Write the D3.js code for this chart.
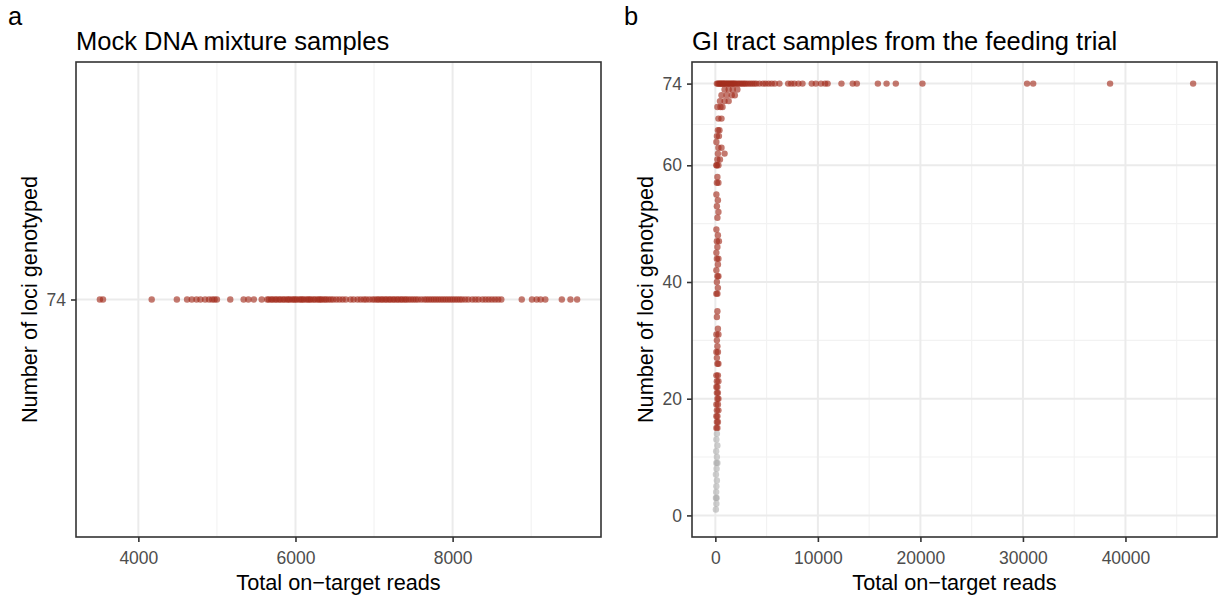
<!DOCTYPE html>
<html>
<head>
<meta charset="utf-8">
<script src="https://cdn.jsdelivr.net/npm/d3@7"></script>
<style>
  body { margin: 0; background: #fff; }
  svg text { font-family: "Liberation Sans", Arial, Helvetica, sans-serif; }
</style>
</head>
<body>
<div id="chart"></div>
<script>
// panel a: mock DNA mixtures, every sample genotyped at all 74 loci
const mockReads = [
  3510, 3550, 4170, 4490, 4620, 4680, 4740, 4790, 4850, 4900, 4940, 4970, 5000,
  5170, 5340, 5400, 5470, 5570,
  5640, 5660, 5690, 5710, 5740, 5760, 5790, 5810, 5840, 5860, 5890, 5910, 5930,
  5960, 5980, 6000, 6020, 6050, 6070, 6090, 6110, 6140, 6160, 6180, 6200, 6230,
  6250, 6280, 6300, 6320, 6340, 6370, 6390, 6420, 6450, 6480, 6520, 6560, 6600,
  6640, 6700, 6740, 6790, 6830, 6870, 6900, 6940, 6980, 7010, 7040, 7060, 7090,
  7110, 7140, 7160, 7190, 7210, 7240, 7260, 7290, 7310, 7340, 7360, 7390, 7410,
  7440, 7470, 7500, 7530, 7560, 7600, 7640, 7670, 7700, 7730, 7760, 7790, 7820,
  7850, 7880, 7910, 7940, 7970, 8000, 8030, 8060, 8090, 8120, 8160, 8200,
  8250, 8290, 8330, 8380, 8420, 8460, 8500, 8540, 8580, 8620,
  8880, 9010, 9070, 9120, 9180, 9390, 9500, 9585
];
const mockLoci = 74;

// panel b: GI tract samples, [total on-target reads, loci genotyped]
const giReads = [
  // loci 74
  150, 250, 350, 450, 520, 600, 700, 780, 850, 950, 1050, 1150, 1250, 1350, 1450,
  1550, 1650, 1750, 1850, 1950, 2100, 2250, 2400, 2550, 2700, 2850, 3000, 3200,
  3400, 3600, 3800, 4000, 4300, 4650, 4900, 5200, 5500, 5800, 6250, 7100, 7400,
  7700, 8100, 8500, 9400, 9800, 10300, 10700, 10950, 12300, 13400, 13800, 15850,
  16700, 17600, 20200, 30400, 31000, 38500, 46600,
  // loci 73 .. 60
  900, 1300, 1700, 2150, 600, 1100, 1600, 1900, 450, 900, 1300, 200, 500, 700,
  300, 600, 250, 400, 150, 350, 100, 300, 600, 250, 900, 200, 450, 150, 300, 100,
  // loci 58 .. 38
  200, 150, 300, 100, 250, 150, 300, 200, 100, 250, 150, 350, 200, 100, 300, 150,
  250, 100, 200, 300, 150, 250, 100, 200,
  // loci 35 .. 26
  200, 150, 250, 100, 300, 150, 200, 100, 250, 150, 200, 300,
  // loci 24 .. 15
  100, 250, 150, 300, 200, 100, 250, 150, 300, 200, 100, 250, 150, 300, 200, 100,
  250, 150, 200, 100,
  // loci 14 .. 1
  150, 100, 200, 80, 150, 100, 200, 120, 60, 150, 100, 80, 120, 60, 100, 50
];
const giLoci = [
  74, 74, 74, 74, 74, 74, 74, 74, 74, 74, 74, 74, 74, 74, 74,
  74, 74, 74, 74, 74, 74, 74, 74, 74, 74, 74, 74, 74,
  74, 74, 74, 74, 74, 74, 74, 74, 74, 74, 74, 74, 74,
  74, 74, 74, 74, 74, 74, 74, 74, 74, 74, 74, 74,
  74, 74, 74, 74, 74, 74, 74,
  73, 73, 73, 73, 72, 72, 72, 72, 71, 71, 71, 70, 70, 70,
  68, 68, 66, 66, 65, 65, 64, 63, 63, 62, 62, 61, 61, 60, 60, 60,
  58, 57, 57, 55, 54, 53, 52, 51, 49, 48, 47, 47, 46, 45, 44, 44,
  43, 42, 41, 41, 40, 39, 38, 38,
  35, 34, 32, 31, 31, 30, 29, 28, 28, 27, 26, 26,
  24, 24, 23, 23, 22, 22, 21, 21, 20, 20, 19, 19, 18, 18, 17, 17,
  16, 16, 15, 15,
  14, 13, 12, 11, 10, 9, 9, 8, 7, 6, 5, 4, 3, 3, 2, 1
];
const passLoci = 15;  // samples below this are drawn grey

const mockXTicks = [4000, 6000, 8000];
const mockXMinor = [5000, 7000, 9000];
const mockYTicks = [74];
const giXTicks = [0, 10000, 20000, 30000, 40000];
const giXMinor = [5000, 15000, 25000, 35000, 45000];
const giYTicks = [0, 20, 40, 60, 74];
const giYMinor = [10, 30, 50, 67];

const W = 1225, H = 597;
const plotTop = 62, plotBottom = 537;
const red = '#a32e1e', grey = '#a6a6a6';

const svg = d3.select('#chart').append('svg')
    .attr('width', W)
    .attr('height', H);

// ggplot-like 5% expansion of a data range
function expand(ext) {
    const pad = (ext[1] - ext[0]) * 0.05 || 1;
    return [ext[0] - pad, ext[1] + pad];
}

function panel(opts) {
    const g = svg.append('g');
    const x = d3.scaleLinear().domain(expand(opts.xExt)).range([opts.left, opts.right]);
    const y = d3.scaleLinear().domain(expand(opts.yExt)).range([plotBottom, plotTop]);

    // grid
    g.selectAll('line.xminor').data(opts.xMinor.filter(v => x(v) > opts.left && x(v) < opts.right))
        .join('line')
        .attr('x1', d => x(d)).attr('x2', d => x(d))
        .attr('y1', plotTop).attr('y2', plotBottom)
        .attr('stroke', '#f2f2f2').attr('stroke-width', 1.1);
    g.selectAll('line.yminor').data(opts.yMinor)
        .join('line')
        .attr('y1', d => y(d)).attr('y2', d => y(d))
        .attr('x1', opts.left).attr('x2', opts.right)
        .attr('stroke', '#f2f2f2').attr('stroke-width', 1.1);
    g.selectAll('line.xmajor').data(opts.xTicks)
        .join('line')
        .attr('x1', d => x(d)).attr('x2', d => x(d))
        .attr('y1', plotTop).attr('y2', plotBottom)
        .attr('stroke', '#ebebeb').attr('stroke-width', 2);
    g.selectAll('line.ymajor').data(opts.yTicks)
        .join('line')
        .attr('y1', d => y(d)).attr('y2', d => y(d))
        .attr('x1', opts.left).attr('x2', opts.right)
        .attr('stroke', '#ebebeb').attr('stroke-width', 2);

    // points
    g.selectAll('circle')
        .data(opts.points)
        .join('circle')
        .attr('cx', d => x(d[0]))
        .attr('cy', d => y(d[1]))
        .attr('r', 3.2)
        .attr('fill', d => d[1] < passLoci ? grey : red)
        .attr('fill-opacity', d => d[1] < passLoci ? 0.55 : 0.64);

    // border
    g.append('rect')
        .attr('x', opts.left).attr('y', plotTop)
        .attr('width', opts.right - opts.left).attr('height', plotBottom - plotTop)
        .attr('fill', 'none').attr('stroke', '#333').attr('stroke-width', 1.6);

    // axes
    const xAxis = d3.axisBottom(x).tickValues(opts.xTicks).tickSize(5).tickPadding(10).tickFormat(d3.format('d'));
    const yAxis = d3.axisLeft(y).tickValues(opts.yTicks).tickSize(5).tickPadding(5).tickFormat(d3.format('d'));
    const gx = g.append('g').attr('transform', `translate(0,${plotBottom})`).call(xAxis);
    const gy = g.append('g').attr('transform', `translate(${opts.left},0)`).call(yAxis);
    [gx, gy].forEach(a => {
        a.select('.domain').remove();
        a.selectAll('.tick line').attr('stroke', '#333').attr('stroke-width', 1.6);
        a.selectAll('.tick text').attr('fill', '#4d4d4d').style('font-size', '17.5px');
    });

    // labels
    const cx = (opts.left + opts.right) / 2;
    g.append('text').attr('x', cx).attr('y', 590)
        .attr('text-anchor', 'middle').style('font-size', '21.7px')
        .text('Total on\u2212target reads');
    g.append('text')
        .attr('transform', `translate(${opts.left - 39},${(plotTop + plotBottom) / 2}) rotate(-90)`)
        .attr('text-anchor', 'middle').style('font-size', '21.7px')
        .text('Number of loci genotyped');
    g.append('text').attr('x', opts.left).attr('y', 50)
        .style('font-size', '25.5px')
        .text(opts.title);
    g.append('text').attr('x', opts.tagX).attr('y', 25)
        .style('font-size', '25.5px')
        .text(opts.tag);
}

panel({
    left: 76, right: 601,
    xExt: d3.extent(mockReads), yExt: [mockLoci, mockLoci],
    points: mockReads.map(r => [r, mockLoci]),
    xTicks: mockXTicks, xMinor: mockXMinor, yTicks: mockYTicks, yMinor: [],
    title: 'Mock DNA mixture samples', tag: 'a', tagX: 8
});

panel({
    left: 692, right: 1217,
    xExt: d3.extent(giReads), yExt: [0, d3.max(giLoci)],
    points: giReads.map((r, i) => [r, giLoci[i]]),
    xTicks: giXTicks, xMinor: giXMinor, yTicks: giYTicks, yMinor: giYMinor,
    title: 'GI tract samples from the feeding trial', tag: 'b', tagX: 624
});
</script>
</body>
</html>
